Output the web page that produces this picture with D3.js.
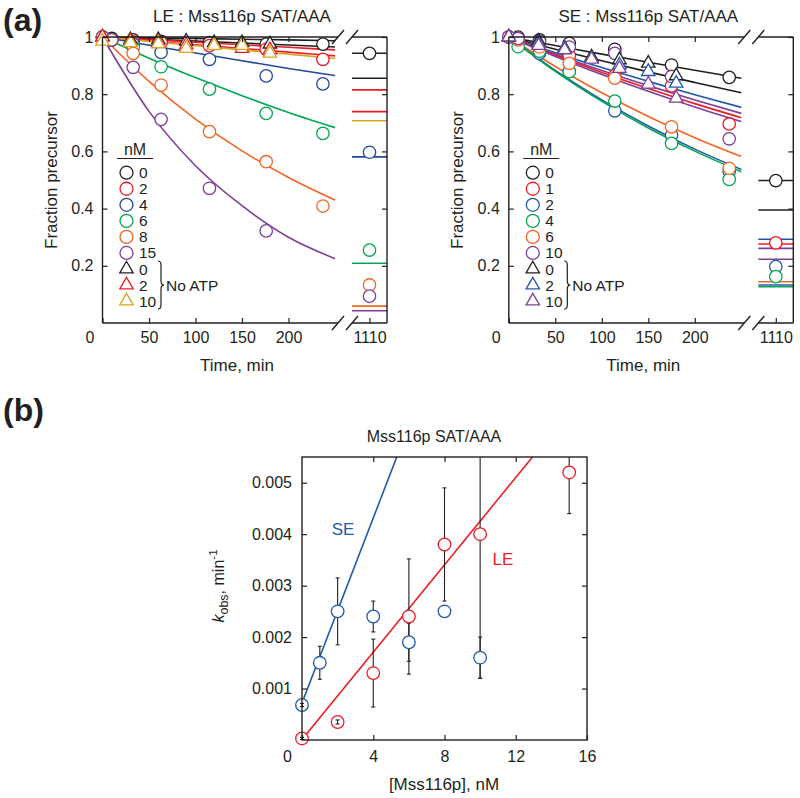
<!DOCTYPE html>
<html><head><meta charset="utf-8">
<script src="https://cdn.jsdelivr.net/npm/d3@7"></script>
<style>
body{margin:0;background:#fff;}
svg{display:block;font-family:"Liberation Sans",Arial,Helvetica,sans-serif;}
</style></head><body>
<svg id="c" width="800" height="798"></svg>
<script>
// ================= DATA =================
// Panel (a) – time axis
const timeTicks = [0, 50, 100, 150, 200];
const breakTick = [1110];
const fracTicks = [0.2, 0.4, 0.6, 0.8, 1];
const fitTimes = [0, 50, 100, 150, 200, 250];

// LE : circles (with ATP)
const leCircleTimes = [0, 10, 33, 63, 115, 176, 237];
const leConcLabels = ["0", "2", "4", "6", "8", "15"];
const leC0  = [1.0, 0.995, 0.99, 0.985, 0.98, 0.975, 0.975];
const leC2  = [1.0, 0.99, 0.983, 0.98, 0.97, 0.957, 0.922];
const leC4  = [1.0, 0.99, 0.975, 0.946, 0.922, 0.864, 0.836];
const leC6  = [1.0, 0.99, 0.965, 0.896, 0.818, 0.733, 0.663];
const leC8  = [1.0, 0.99, 0.943, 0.832, 0.669, 0.564, 0.409];
const leC15 = [1.0, 0.99, 0.894, 0.712, 0.471, 0.322, null];
const leC1110 = [0.943, null, 0.597, 0.255, 0.133, 0.094];
// LE : triangles (no ATP)
const leTriTimes = [0, 30, 60, 90, 120, 150, 180];
const leTriLabels = ["0", "2", "10"];
const leT0  = [1.0, 0.99, 0.99, 0.985, 0.98, 0.98, 0.975];
const leT2  = [1.0, 0.985, 0.98, 0.972, 0.97, 0.96, 0.955];
const leT10 = [0.985, 0.98, 0.976, 0.96, 0.97, 0.97, 0.943];
// LE : fitted curves (read at fitTimes) and their level at 1110 min
const leFitC0  = [1.0, 0.997, 0.995, 0.992, 0.990, 0.987];
const leFitT0  = [1.0, 0.993, 0.986, 0.979, 0.972, 0.965];
const leFitC2  = [1.0, 0.991, 0.982, 0.973, 0.964, 0.955];
const leFitT2  = [1.0, 0.986, 0.973, 0.960, 0.947, 0.934];
const leFitT10 = [1.0, 0.985, 0.970, 0.955, 0.940, 0.925];
const leFitC4  = [1.0, 0.971, 0.944, 0.917, 0.890, 0.865];
const leFitC6  = [1.0, 0.926, 0.858, 0.795, 0.736, 0.683];
const leFitC8  = [1.0, 0.845, 0.713, 0.602, 0.509, 0.430];
const leFitC15 = [1.0, 0.740, 0.550, 0.410, 0.300, 0.225];
const leFitAt1110 = [0.943, 0.856, 0.815, 0.739, 0.707, 0.581, 0.209, 0.059, 0.043];

// SE : circles (with ATP)
const seCircleTimes = [0, 10, 33, 65, 114, 175, 237];
const seConcLabels = ["0", "1", "2", "4", "6", "10"];
const seC0  = [1.0, 1.0, 0.99, 0.978, 0.957, 0.902, 0.859];
const seC1  = [1.0, 0.995, 0.975, 0.935, 0.865, 0.829, 0.696];
const seC2  = [1.0, 0.99, 0.943, 0.88, 0.742, 0.657, 0.53];
const seC4  = [1.0, 0.966, 0.95, 0.879, 0.776, 0.628, 0.502];
const seC6  = [1.0, 0.99, 0.965, 0.908, 0.856, 0.686, 0.541];
const seC10 = [1.0, 0.995, 0.985, 0.965, 0.943, 0.862, 0.644];
const seC1110 = [0.498, 0.28, 0.197, 0.162, null, null];
// SE : triangles (no ATP)
const seTriTimes = [0, 32, 60, 89, 119, 150, 180];
const seTriLabels = ["0", "2", "10"];
const seT0  = [1.0, 0.985, 0.96, 0.93, 0.92, 0.908, 0.864];
const seT2  = [1.0, 0.978, 0.96, 0.925, 0.902, 0.879, 0.838];
const seT10 = [1.0, 0.97, 0.955, 0.922, 0.89, 0.835, 0.786];
// SE : fitted curves
const seFitC0  = [1.0, 0.970, 0.940, 0.912, 0.884, 0.856];
const seFitT0  = [1.0, 0.957, 0.917, 0.878, 0.841, 0.805];
const seFitT2  = [1.0, 0.945, 0.893, 0.845, 0.798, 0.754];
const seFitT10 = [1.0, 0.940, 0.883, 0.830, 0.780, 0.733];
const seFitC1  = [1.0, 0.936, 0.876, 0.820, 0.767, 0.718];
const seFitC10 = [1.0, 0.932, 0.869, 0.810, 0.755, 0.704];
const seFitC6  = [1.0, 0.897, 0.805, 0.722, 0.648, 0.582];
const seFitC2  = [1.0, 0.883, 0.780, 0.689, 0.608, 0.537];
const seFitC4  = [1.0, 0.880, 0.775, 0.682, 0.601, 0.529];
const seFitAt1110 = [0.498, 0.395, 0.293, 0.261, 0.276, 0.223, 0.144, 0.133, 0.127];

// Panel (b) – kobs vs [Mss116p]
const concTicks = [0, 4, 8, 12, 16];
const kTicks = [0.001, 0.002, 0.003, 0.004, 0.005];
const seConc = [0, 1, 2, 4, 6, 8, 10];
const seKobs = [0.00068, 0.0015, 0.0025, 0.0024, 0.0019, 0.0025, 0.0016];
const seKerr = [0.00003, 0.00032, 0.00065, 0.0003, 0.00037, 0, 0.0004];
const leConc = [0, 2, 4, 6, 8, 10, 15];
const leKobs = [0.00003, 0.00035, 0.0013, 0.0024, 0.0038, 0.0040, 0.0052];
const leKerr = [0.00002, 0.00004, 0.00066, 0.00112, 0.0011, 0.0028, 0.0008];
const seFitConc = [0, 5.32];
const seFitK = [0.00072, 0.0055];
const leFitConc = [0, 12.94];
const leFitK = [0.00001, 0.0055];

// ================= STYLE =================
const COL = {
  black: "#231f20", red: "#ed1c24", blue: "#24479c", green: "#00a651",
  orange: "#f26522", purple: "#7f3f98", gold: "#d9a521", sblue: "#1f5aa8"
};
const circleColsLE = [COL.black, COL.red, COL.blue, COL.green, COL.orange, COL.purple];
const triColsLE = [COL.black, COL.red, COL.gold];
const circleColsSE = [COL.black, COL.red, COL.sblue, COL.green, COL.orange, COL.purple];
const triColsSE = [COL.black, COL.sblue, COL.purple];

const svg = d3.select("#c");
const FONT = "Liberation Sans, Arial, sans-serif";

function styleAxis(g, size) {
  g.select(".domain").remove();
  g.selectAll(".tick line").attr("stroke", COL.black).attr("stroke-width", 1.2);
  g.selectAll(".tick text").attr("font-size", size).attr("fill", COL.black).attr("font-family", FONT);
}

function panelA(ox, cfg) {
  const g = svg.append("g");
  const x = d3.scaleLinear().domain([0, 250]).range([ox + 102.5, ox + 335]);
  const xb = d3.scaleLinear().domain([1100, 1120]).range([ox + 352, ox + 387]);
  const y = d3.scaleLinear().domain([0, 1]).range([323, 37]);
  const line = d3.line().curve(d3.curveMonotoneX);

  // fitted curves
  cfg.fits.forEach((f, i) => {
    g.append("path").attr("d", line(fitTimes.map((t, j) => [x(t), y(f.v[j])])))
      .attr("fill", "none").attr("stroke", f.c).attr("stroke-width", 1.6);
    g.append("line").attr("x1", xb(1100)).attr("x2", xb(1120))
      .attr("y1", y(cfg.fitBreak[i])).attr("y2", y(cfg.fitBreak[i]))
      .attr("stroke", f.c).attr("stroke-width", 1.6);
  });

  // circles
  cfg.circles.forEach((s, i) => {
    s.forEach((v, j) => {
      if (v == null) return;
      g.append("circle").attr("cx", x(cfg.cTimes[j])).attr("cy", y(v)).attr("r", 6.2)
        .attr("fill", "#fff").attr("stroke", cfg.cCols[i]).attr("stroke-width", 1.3);
    });
    const b = cfg.cBreak[i];
    if (b != null) g.append("circle").attr("cx", xb(breakTick[0])).attr("cy", y(b)).attr("r", 6.2)
      .attr("fill", "#fff").attr("stroke", cfg.cCols[i]).attr("stroke-width", 1.3);
  });
  // triangles
  const tri = d3.symbol(d3.symbolTriangle, 78);
  cfg.tris.forEach((s, i) => {
    s.forEach((v, j) => {
      g.append("path").attr("d", tri()).attr("transform", `translate(${x(cfg.tTimes[j])},${y(v)})`)
        .attr("fill", "#fff").attr("stroke", cfg.tCols[i]).attr("stroke-width", 1.3);
    });
  });

  // frame
  const fr = (x1, y1, x2, y2) => g.append("line").attr("x1", x1).attr("y1", y1).attr("x2", x2).attr("y2", y2)
    .attr("stroke", COL.black).attr("stroke-width", 1.4);
  fr(x(0), y(0), x(0), y(1));
  fr(x(0), y(0), ox + 338, y(0));
  fr(x(0), y(1), ox + 338, y(1));
  fr(ox + 352, y(0), xb(1120), y(0));
  fr(ox + 352, y(1), xb(1120), y(1));
  fr(xb(1120), y(0), xb(1120), y(1));
  // break marks
  [y(0), y(1)].forEach(yy => [ox + 338, ox + 352].forEach(cx => fr(cx - 6, yy + 7, cx + 6, yy - 7)));

  // axes
  const ax = g.append("g").attr("transform", `translate(0,${y(0)})`)
    .call(d3.axisBottom(x).tickValues(timeTicks).tickSizeInner(-5).tickSizeOuter(0).tickPadding(9)
      .tickFormat(d3.format("d")));
  styleAxis(ax, 16);
  ax.selectAll(".tick").filter(d => d === 0).select("text").attr("dx", -13);
  const axb = g.append("g").attr("transform", `translate(0,${y(0)})`)
    .call(d3.axisBottom(xb).tickValues(breakTick).tickSizeInner(-5).tickSizeOuter(0).tickPadding(9)
      .tickFormat(d3.format("d")));
  styleAxis(axb, 16);
  const at = g.append("g").attr("transform", `translate(0,${y(1)})`)
    .call(d3.axisTop(x).tickValues(timeTicks.slice(1)).tickSizeInner(-5).tickSizeOuter(0).tickFormat(""));
  styleAxis(at, 16);
  const ay = g.append("g").attr("transform", `translate(${x(0)},0)`)
    .call(d3.axisLeft(y).tickValues(fracTicks).tickSizeInner(-5).tickSizeOuter(0).tickPadding(9)
      .tickFormat(d => d === 1 ? "1" : d3.format(".1f")(d)));
  styleAxis(ay, 16);
  const ar = g.append("g").attr("transform", `translate(${xb(1120)},0)`)
    .call(d3.axisRight(y).tickValues(fracTicks).tickSizeInner(-5).tickSizeOuter(0).tickFormat(""));
  styleAxis(ar, 16);

  // labels
  g.append("text").attr("x", ox + 242).attr("y", 22).attr("text-anchor", "middle")
    .attr("font-size", 17).attr("fill", COL.black).text(cfg.title);
  g.append("text").attr("x", ox + 237).attr("y", 371).attr("text-anchor", "middle")
    .attr("font-size", 17).attr("fill", COL.black).text("Time, min");
  g.append("text").attr("transform", `translate(${ox + 57},${(y(0) + y(1)) / 2}) rotate(-90)`)
    .attr("text-anchor", "middle").attr("font-size", 17).attr("fill", COL.black).text("Fraction precursor");

  // legend
  const lg = g.append("g");
  lg.append("text").attr("x", ox + 135).attr("y", 155).attr("text-anchor", "middle")
    .attr("font-size", 16).attr("fill", COL.black).text("nM");
  lg.append("line").attr("x1", ox + 117).attr("x2", ox + 153).attr("y1", 158.5).attr("y2", 158.5)
    .attr("stroke", COL.black).attr("stroke-width", 1.2);
  const row0 = 172.7, dRow = 16.05;
  cfg.cLabels.forEach((lab, i) => {
    const yy = row0 + i * dRow;
    lg.append("circle").attr("cx", ox + 126.5).attr("cy", yy).attr("r", 6.5)
      .attr("fill", "#fff").attr("stroke", cfg.cCols[i]).attr("stroke-width", 1.3);
    lg.append("text").attr("x", ox + 139).attr("y", yy + 5.5).attr("font-size", 15.5)
      .attr("fill", COL.black).text(lab);
  });
  cfg.tLabels.forEach((lab, i) => {
    const yy = row0 + (6 + i) * dRow;
    lg.append("path").attr("d", tri()).attr("transform", `translate(${ox + 126.5},${yy})`)
      .attr("fill", "#fff").attr("stroke", cfg.tCols[i]).attr("stroke-width", 1.3);
    lg.append("text").attr("x", ox + 139).attr("y", yy + 5.5).attr("font-size", 15.5)
      .attr("fill", COL.black).text(lab);
  });
  // brace
  const bx = ox + 158, bt = row0 + 6 * dRow - 8, bb = row0 + 8 * dRow + 8, bm = (bt + bb) / 2;
  lg.append("path").attr("d",
    `M${bx},${bt} Q${bx + 3},${bt} ${bx + 3},${bt + 4} L${bx + 3},${bm - 4} Q${bx + 3},${bm} ${bx + 6},${bm}` +
    ` Q${bx + 3},${bm} ${bx + 3},${bm + 4} L${bx + 3},${bb - 4} Q${bx + 3},${bb} ${bx},${bb}`)
    .attr("fill", "none").attr("stroke", COL.black).attr("stroke-width", 1.2);
  lg.append("text").attr("x", ox + 166).attr("y", bm + 5.5).attr("font-size", 15.5)
    .attr("fill", COL.black).text("No ATP");
}

panelA(0, {
  title: "LE : Mss116p SAT/AAA",
  cTimes: leCircleTimes, tTimes: leTriTimes,
  circles: [leC0, leC2, leC4, leC6, leC8, leC15],
  cBreak: leC1110, cCols: circleColsLE, cLabels: leConcLabels,
  tris: [leT0, leT2, leT10], tCols: triColsLE, tLabels: leTriLabels,
  fits: [{ v: leFitC0, c: COL.black }, { v: leFitT0, c: COL.black }, { v: leFitC2, c: COL.red },
         { v: leFitT2, c: COL.red }, { v: leFitT10, c: COL.gold }, { v: leFitC4, c: COL.blue },
         { v: leFitC6, c: COL.green }, { v: leFitC8, c: COL.orange }, { v: leFitC15, c: COL.purple }],
  fitBreak: leFitAt1110
});
panelA(406.3, {
  title: "SE : Mss116p SAT/AAA",
  cTimes: seCircleTimes, tTimes: seTriTimes,
  circles: [seC0, seC1, seC2, seC4, seC6, seC10],
  cBreak: seC1110, cCols: circleColsSE, cLabels: seConcLabels,
  tris: [seT0, seT2, seT10], tCols: triColsSE, tLabels: seTriLabels,
  fits: [{ v: seFitC0, c: COL.black }, { v: seFitT0, c: COL.black }, { v: seFitT2, c: COL.sblue },
         { v: seFitT10, c: COL.purple }, { v: seFitC1, c: COL.red }, { v: seFitC10, c: COL.purple },
         { v: seFitC6, c: COL.orange }, { v: seFitC2, c: COL.sblue }, { v: seFitC4, c: COL.green }],
  fitBreak: seFitAt1110
});

// ================= PANEL (b) =================
(function () {
  const g = svg.append("g");
  const x = d3.scaleLinear().domain([0, 16]).range([302, 587]);
  const y = d3.scaleLinear().domain([0, 0.0055]).range([740, 457]);
  svg.append("defs").append("clipPath").attr("id", "clipB").append("rect")
    .attr("x", 302).attr("y", 457).attr("width", 285).attr("height", 283);
  const inner = g.append("g").attr("clip-path", "url(#clipB)");
  // fits
  inner.append("line").attr("x1", x(seFitConc[0])).attr("y1", y(seFitK[0]))
    .attr("x2", x(seFitConc[1])).attr("y2", y(seFitK[1])).attr("stroke", COL.sblue).attr("stroke-width", 1.6);
  inner.append("line").attr("x1", x(leFitConc[0])).attr("y1", y(leFitK[0]))
    .attr("x2", x(leFitConc[1])).attr("y2", y(leFitK[1])).attr("stroke", COL.red).attr("stroke-width", 1.6);
  // error bars
  function errs(layer, conc, k, e, small) {
    conc.forEach((c, i) => {
      if (!e[i]) return;
      if (small !== (e[i] < 0.0001)) return;
      const lo = k[i] - e[i], hi = k[i] + e[i];
      layer.append("line").attr("x1", x(c)).attr("x2", x(c)).attr("y1", y(lo)).attr("y2", y(hi))
        .attr("stroke", COL.black).attr("stroke-width", 1.1);
      [lo, hi].forEach(v => layer.append("line").attr("x1", x(c) - 2).attr("x2", x(c) + 2)
        .attr("y1", y(v)).attr("y2", y(v)).attr("stroke", COL.black).attr("stroke-width", 1.1));
    });
  }
  errs(inner, leConc, leKobs, leKerr, false);
  errs(inner, seConc, seKobs, seKerr, false);
  // points
  function pts(conc, k, col) {
    conc.forEach((c, i) => g.append("circle").attr("cx", x(c)).attr("cy", y(k[i])).attr("r", 6.3)
      .attr("fill", "#fff").attr("stroke", col).attr("stroke-width", 1.3));
  }
  pts(seConc, seKobs, COL.sblue);
  pts(leConc, leKobs, COL.red);
  // tiny error bars drawn on top of their circles
  const top = g.append("g");
  errs(top, leConc, leKobs, leKerr, true);
  errs(top, seConc, seKobs, seKerr, true);

  // frame
  g.append("rect").attr("x", 302).attr("y", 457).attr("width", 285).attr("height", 283)
    .attr("fill", "none").attr("stroke", COL.black).attr("stroke-width", 1.4);
  const ax = g.append("g").attr("transform", "translate(0,740)")
    .call(d3.axisBottom(x).tickValues(concTicks).tickSizeInner(-5).tickSizeOuter(0).tickPadding(11));
  styleAxis(ax, 16);
  ax.selectAll(".tick").filter(d => d === 0).select("text").attr("dx", -15);
  const at = g.append("g").attr("transform", "translate(0,457)")
    .call(d3.axisTop(x).tickValues(concTicks.slice(1, 4)).tickSizeInner(-5).tickSizeOuter(0).tickFormat(""));
  styleAxis(at, 16);
  const ay = g.append("g").attr("transform", "translate(302,0)")
    .call(d3.axisLeft(y).tickValues(kTicks).tickSizeInner(-5).tickSizeOuter(0).tickPadding(10)
      .tickFormat(d3.format(".3f")));
  styleAxis(ay, 16);
  const ar = g.append("g").attr("transform", "translate(587,0)")
    .call(d3.axisRight(y).tickValues(kTicks).tickSizeInner(-5).tickSizeOuter(0).tickFormat(""));
  styleAxis(ar, 16);

  g.append("text").attr("x", 434).attr("y", 442).attr("text-anchor", "middle")
    .attr("font-size", 16).attr("fill", COL.black).text("Mss116p SAT/AAA");
  g.append("text").attr("x", 444).attr("y", 790).attr("text-anchor", "middle")
    .attr("font-size", 17).attr("fill", COL.black).text("[Mss116p], nM");
  const yl = g.append("text").attr("transform", "translate(224,586) rotate(-90)")
    .attr("text-anchor", "middle").attr("font-size", 16).attr("fill", COL.black);
  yl.append("tspan").attr("font-style", "italic").text("k");
  yl.append("tspan").attr("font-size", 12.5).attr("dy", 4).text("obs");
  yl.append("tspan").attr("dy", -4).text(", min");
  yl.append("tspan").attr("font-size", 11.5).attr("dy", -7).text("-1");

  g.append("text").attr("x", 343).attr("y", 535).attr("text-anchor", "middle")
    .attr("font-size", 17).attr("fill", COL.sblue).text("SE");
  g.append("text").attr("x", 503).attr("y", 565).attr("text-anchor", "middle")
    .attr("font-size", 17).attr("fill", COL.red).text("LE");
})();

// panel letters
svg.append("text").attr("x", 3).attr("y", 31).attr("font-size", 32).attr("font-weight", "bold")
  .attr("fill", COL.black).text("(a)");
svg.append("text").attr("x", 3).attr("y", 421).attr("font-size", 32).attr("font-weight", "bold")
  .attr("fill", COL.black).text("(b)");
</script>
</body></html>
